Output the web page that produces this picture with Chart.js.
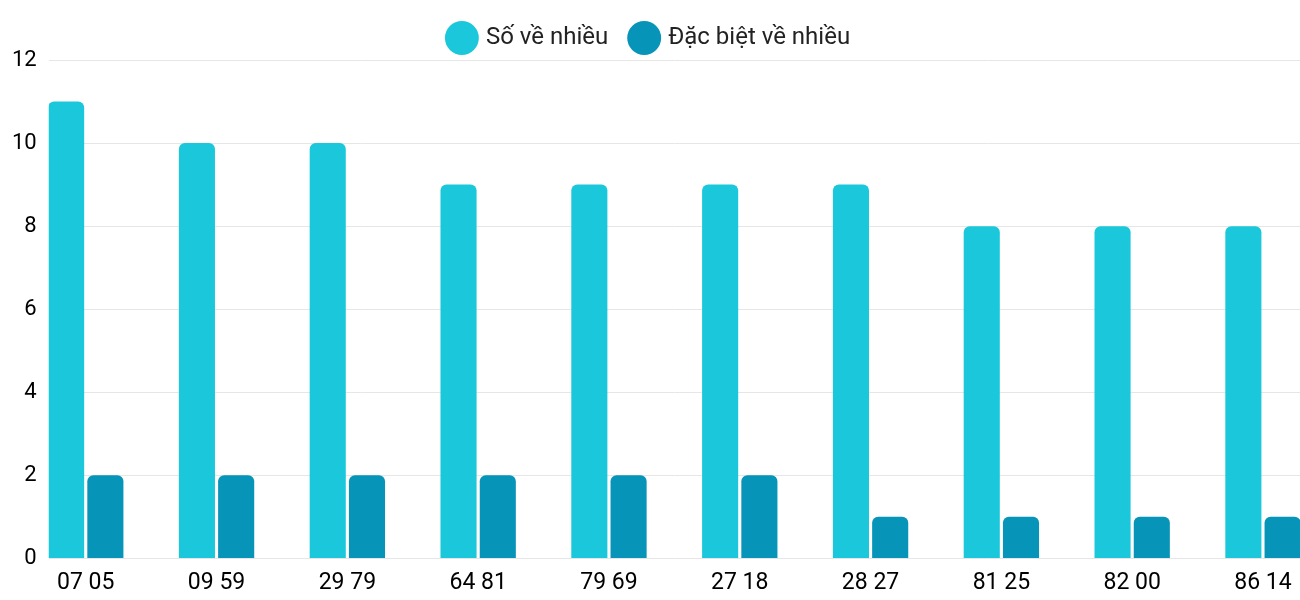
<!DOCTYPE html>
<html>
<head>
<meta charset="utf-8">
<script src="https://cdn.jsdelivr.net/npm/chart.js@4"></script>
<style>
  body { margin: 0; background: #fff; }
  #wrap { width: 1300px; height: 600px; }
</style>
</head>
<body>
<div id="wrap"><canvas id="myChart"></canvas></div>
<script>
const labels = ["07 05", "09 59", "29 79", "64 81", "79 69", "27 18", "28 27", "81 25", "82 00", "86 14"];
const soVeNhieu = [11, 10, 10, 9, 9, 9, 9, 8, 8, 8];
const dacBietVeNhieu = [2, 2, 2, 2, 2, 2, 1, 1, 1, 1];
const yTicks = [0, 2, 4, 6, 8, 10, 12];

Chart.defaults.font.family = "Roboto";

const ctx = document.getElementById('myChart').getContext('2d');
const myChart = new Chart(ctx, {
    type: 'bar',
    data: {
        datasets: [{
            label: "Số về nhiều",
            data: soVeNhieu.map((v, i) => ({ x: i, y: v })),
            backgroundColor: '#1bc8db',
            borderRadius: { topLeft: 6, topRight: 6 },
            borderSkipped: 'bottom',
            barPercentage: 0.92,
            categoryPercentage: 0.6
        }, {
            label: "Đặc biệt về nhiều",
            data: dacBietVeNhieu.map((v, i) => ({ x: i, y: v })),
            backgroundColor: '#0694b8',
            borderRadius: { topLeft: 6, topRight: 6 },
            borderSkipped: 'bottom',
            barPercentage: 0.92,
            categoryPercentage: 0.6
        }]
    },
    options: {
        responsive: true,
        maintainAspectRatio: false,
        animation: false,
        layout: { padding: { left: 0, right: 0, top: 2, bottom: 0 } },
        plugins: {
            legend: {
                position: 'top',
                labels: {
                    usePointStyle: true,
                    pointStyle: 'circle',
                    boxWidth: 26,
                    boxHeight: 26,
                    padding: 24,
                    color: '#222',
                    font: { size: 24 }
                }
            },
            tooltip: { enabled: false }
        },
        scales: {
            x: {
                type: 'linear',
                offset: false,
                min: -0.283,
                max: 9.283,
                grid: { display: false },
                border: { display: false },
                ticks: {
                    stepSize: 1,
                    includeBounds: false,
                    autoSkip: false,
                    maxRotation: 0,
                    color: '#000',
                    font: { size: 23 },
                    callback: (v) => labels[v] !== undefined && Number.isInteger(v) ? labels[v] : ''
                }
            },
            y: {
                min: 0,
                max: 12,
                afterBuildTicks: (axis) => { axis.ticks = yTicks.map(v => ({ value: v })); },
                grid: { color: '#e6e6e6', drawTicks: false },
                border: { display: false },
                ticks: {
                    padding: 12,
                    color: '#000',
                    font: { size: 22 }
                }
            }
        }
    }
});
</script>
</body>
</html>
